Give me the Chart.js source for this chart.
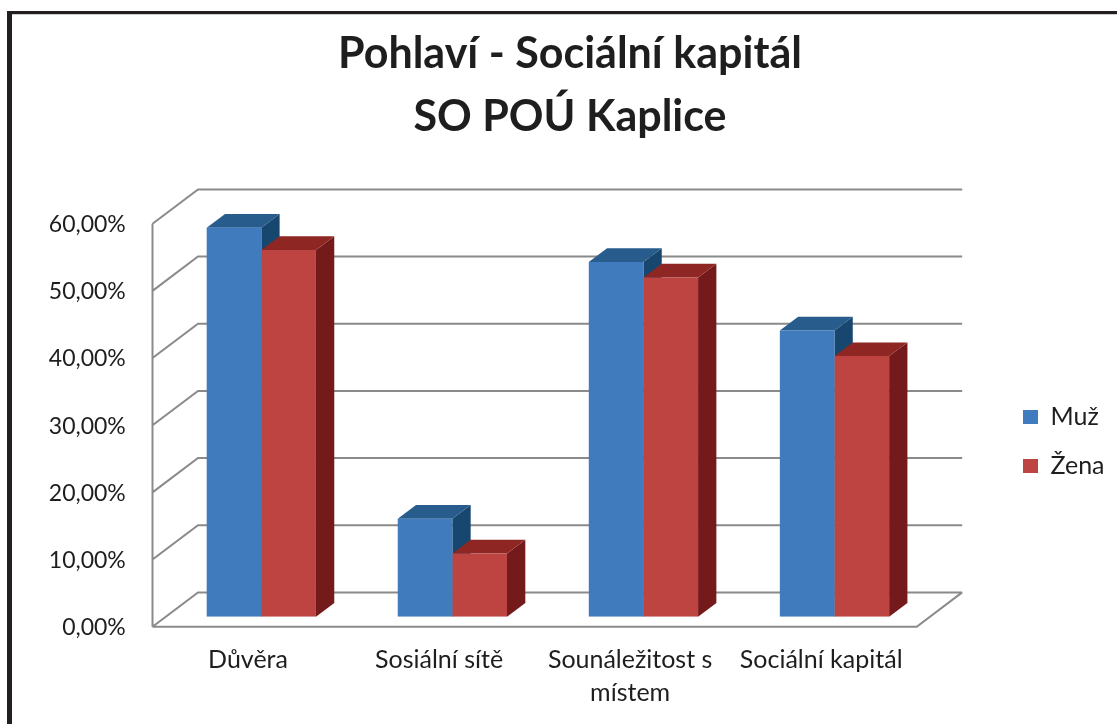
<!DOCTYPE html>
<html lang="cs">
<head>
<meta charset="utf-8">
<title>Pohlaví - Sociální kapitál</title>
<script src="https://cdn.jsdelivr.net/npm/chart.js@4.4.1/dist/chart.umd.min.js"></script>
<style>
  html, body { margin: 0; padding: 0; background: #fff; }
  #wrap { position: relative; width: 1117px; height: 724px; }
</style>
</head>
<body>
<div id="wrap"><canvas id="chart" width="1117" height="724"></canvas></div>
<script>
// ---- data ----
const categories = ['Důvěra', 'Sosiální sítě', ['Sounáležitost s', 'místem'], 'Sociální kapitál'];
const seriesNames = ['Muž', 'Žena'];
const muzValues  = [57.9, 14.6, 52.8, 42.6];
const zenaValues = [54.6,  9.4, 50.5, 38.8];
const yTickValues = [0, 10, 20, 30, 40, 50, 60];
const titleLines = ['Pohlaví - Sociální kapitál', 'SO POÚ Kaplice'];

// ---- look ----
const FONT = 'Lato, "Open Sans", sans-serif';
const TEXT = '#1e1e1e';
const GRID = '#8a8a8a';
const faces = [
  { front: '#3f7bbd', top: '#285c8c', side: '#17466f' },   // Muž
  { front: '#be4441', top: '#8e2724', side: '#741a1a' }    // Žena
];
// plot rectangle = plane of the bars' front faces
const PLOT = { left: 165.8, right: 930, top: 213.7, bottom: 616.7 };
const PAD_LEFT = 23;
// perspective offsets relative to the bars' front plane
const FRONT_OFF = { x: -13.3, y: 10 };
const BACK_OFF  = { x: 32.2, y: -24.3 };
const BAR_DEPTH = { x: 18.3, y: -13.7 };

const TITLE_SIZE = 43, TITLE_LINE = 63.5;
const fmtPct = v => v.toFixed(2).replace('.', ',') + '%';

// white page with the chart frame
const framePlugin = {
  id: 'frame',
  beforeDraw(chart) {
    const ctx = chart.ctx;
    ctx.save();
    ctx.fillStyle = '#ffffff';
    ctx.fillRect(0, 0, chart.width, chart.height);
    ctx.fillStyle = '#cfcfcf';
    ctx.fillRect(12, 14, chart.width - 12, 1);
    ctx.fillStyle = '#231f20';
    ctx.fillRect(7, 11, chart.width - 7, 3);
    ctx.fillRect(7, 11, 5, chart.height - 11);
    ctx.restore();
  }
};

// 3D walls, floor and bar extrusions
const depthPlugin = {
  id: 'depth',
  beforeDatasetsDraw(chart) {
    const { ctx, chartArea: a, scales: { y } } = chart;
    const f = FRONT_OFF, b = BACK_OFF;
    const y0 = y.getPixelForValue(y.min);
    const yTop = y.getPixelForValue(y.max);
    ctx.save();
    ctx.strokeStyle = GRID;
    ctx.lineWidth = 2;
    ctx.beginPath();
    // floor front and right edges
    ctx.moveTo(a.left + f.x, y0 + f.y);
    ctx.lineTo(a.right + f.x, y0 + f.y);
    ctx.lineTo(a.right + b.x, y0 + b.y);
    // left wall front edge
    ctx.moveTo(a.left + f.x, yTop + f.y);
    ctx.lineTo(a.left + f.x, y0 + f.y);
    // gridlines across the side wall and back wall
    y.ticks.forEach(t => {
      const py = y.getPixelForValue(t.value);
      ctx.moveTo(a.left + f.x, py + f.y);
      ctx.lineTo(a.left + b.x, py + b.y);
      ctx.lineTo(a.right + b.x, py + b.y);
    });
    ctx.stroke();

    const d = BAR_DEPTH;
    chart.data.datasets.forEach((ds, i) => {
      const meta = chart.getDatasetMeta(i);
      const col = faces[i];
      meta.data.forEach(el => {
        const { x, y: top, base, width } = el.getProps(['x', 'y', 'base', 'width'], true);
        const l = x - width / 2, r = x + width / 2;
        // side face
        ctx.fillStyle = col.side;
        ctx.beginPath();
        ctx.moveTo(r, top);
        ctx.lineTo(r + d.x, top + d.y);
        ctx.lineTo(r + d.x, base + d.y);
        ctx.lineTo(r, base);
        ctx.closePath();
        ctx.fill();
        // top face
        ctx.fillStyle = col.top;
        ctx.beginPath();
        ctx.moveTo(l, top);
        ctx.lineTo(r, top);
        ctx.lineTo(r + d.x, top + d.y);
        ctx.lineTo(l + d.x, top + d.y);
        ctx.closePath();
        ctx.fill();
      });
    });
    ctx.restore();
  }
};

// fixed legend slot on the right
const LEGEND_W = 1117 - PLOT.right;
const LEGEND_BOX = { x: 1023, y: 410 };
const legendPlacer = {
  id: 'legendPlacer',
  beforeLayout(chart) {
    const lg = chart.legend;
    if (lg && !lg._fixedWidth) {
      const fit = lg.fit;
      lg.fit = function () { fit.call(this); this.width = LEGEND_W; };
      lg._fixedWidth = true;
    }
  },
  afterLayout(chart) {
    const lg = chart.legend;
    if (!lg) return;
    const o = lg.options.labels;
    const pad = o.padding, fs = o.font.size, bh = o.boxHeight;
    const w = lg.width, h = lg.height;
    lg.left = LEGEND_BOX.x - pad;
    lg.right = lg.left + w;
    lg.top = LEGEND_BOX.y - pad - (fs - bh) / 2;
    lg.bottom = lg.top + Math.max(h, 300);
    lg.height = lg.bottom - lg.top;
  }
};

new Chart(document.getElementById('chart'), {
  type: 'bar',
  data: {
    labels: categories,
    datasets: [
      { label: seriesNames[0], data: muzValues,  backgroundColor: faces[0].front },
      { label: seriesNames[1], data: zenaValues, backgroundColor: faces[1].front }
    ]
  },
  options: {
    responsive: false,
    animation: false,
    events: [],
    layout: { padding: { left: PAD_LEFT, right: 0, top: 0, bottom: 0 } },
    datasets: { bar: { categoryPercentage: 0.572, barPercentage: 1, borderWidth: 0 } },
    scales: {
      x: {
        grid: { display: false, drawTicks: false },
        border: { display: false },
        ticks: {
          color: TEXT, font: { family: FONT, size: 25, lineHeight: 33 / 25 },
          padding: 27, labelOffset: FRONT_OFF.x, maxRotation: 0, minRotation: 0, autoSkip: false
        },
        afterFit: s => { s.height = 724 - PLOT.bottom; }
      },
      y: {
        min: yTickValues[0], max: yTickValues[yTickValues.length - 1],
        grid: { display: false, drawTicks: false },
        border: { display: false },
        afterBuildTicks: s => { s.ticks = yTickValues.map(v => ({ value: v })); },
        ticks: {
          color: TEXT, font: { family: FONT, size: 23 },
          padding: 40, labelOffset: 11,
          callback: v => fmtPct(v)
        },
        afterFit: s => { s.width = PLOT.left - PAD_LEFT; }
      }
    },
    plugins: {
      title: {
        display: true, text: titleLines, color: TEXT,
        font: { family: FONT, size: TITLE_SIZE, weight: 'bold', lineHeight: TITLE_LINE / TITLE_SIZE },
        padding: { top: 22.3, bottom: PLOT.top - 22.3 - 2 * TITLE_LINE }
      },
      legend: {
        position: 'right', align: 'start',
        labels: { boxWidth: 15, boxHeight: 14, padding: 24, color: TEXT, font: { family: FONT, size: 25 } }
      },
      tooltip: { enabled: false }
    }
  },
  plugins: [framePlugin, depthPlugin, legendPlacer]
});
</script>
</body>
</html>
